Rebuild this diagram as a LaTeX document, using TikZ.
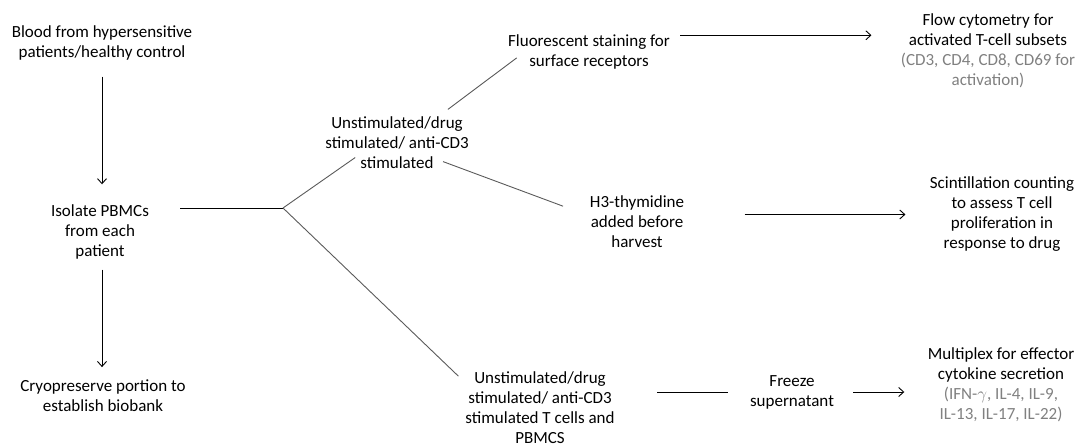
\documentclass[tikz,border=0pt]{standalone}
\usepackage{fontspec}
\setmainfont{Carlito}
\usepackage[dvipsnames]{xcolor}
\usetikzlibrary{arrows.meta,positioning,calc}
\definecolor{notegray}{RGB}{128,128,128}
\definecolor{spokegray}{RGB}{90,90,90}
\newcommand{\notetext}[1]{\textcolor{notegray}{#1}}

\begin{document}
\begin{tikzpicture}[x=1pt,y=-1pt,->,>={Straight Barb[length=5pt,width=9pt]},line width=0.9pt,
    step node/.style={align=center,inner sep=3pt,font=\fontsize{17}{20}\selectfont},
    spoke/.style={-,draw=spokegray},
    bar/.style={-}]
    \useasboundingbox (0,0) rectangle (1081,446);

    % left column
    \node[step node] (blood) at (102,43) {Blood from hypersensitive\\patients/healthy control};
    \node[step node] (isolate) at (100,232) {Isolate PBMCs\\from each\\patient};
    \node[step node] (cryo) at (103,395.5) {Cryopreserve portion to\\establish biobank};
    \coordinate (junction) at (283,208);

    % middle
    \node[step node] (stimA) at (397,143) {Unstimulated/drug\\stimulated/ anti-CD3\\stimulated};
    \node[step node] (fluor) at (589,52) {Fluorescent staining for\\surface receptors};
    \node[step node] (h3) at (637,222) {H3-thymidine\\added before\\harvest};
    \node[step node] (stimB) at (540,408) {Unstimulated/drug\\stimulated/ anti-CD3\\stimulated T cells and\\PBMCS};
    \node[step node] (freeze) at (792,392) {Freeze\\supernatant};

    % right column
    \node[step node] (flow) at (988,50.5) {Flow cytometry for\\activated T-cell subsets\\\notetext{(CD3, CD4, CD8, CD69 for}\\\notetext{activation)}};
    \node[step node] (scint) at (1002,214.5) {Scintillation counting\\to assess T cell\\proliferation in\\response to drug};
    \node[step node] (multi) at (1001,385) {Multiplex for effector\\cytokine secretion\\\notetext{(IFN-$\gamma$, IL-4, IL-9,}\\\notetext{IL-13, IL-17, IL-22)}};

    \path
        (blood.south) edge[shorten <=13pt, shorten >=17pt] (blood.south |- isolate.north)
        (blood.south |- isolate.south) edge[shorten <=7pt, shorten >=9pt] (blood.south |- cryo.north)
        (isolate.east |- junction) edge[bar, shorten <=28pt] (junction)
        (junction) edge[spoke, shorten >=-26pt] (stimA.205)
        (junction) edge[spoke, shorten >=5pt] (stimB.160)
        (stimA.33) edge[spoke, shorten <=7pt, shorten >=-15pt] (fluor.190)
        (stimA.south east) edge[spoke, shorten <=-31pt, shorten >=25pt] (h3.172)
        ($(fluor.north east)+(0,4)$) edge[shorten <=7pt, shorten >=26pt] ($(flow.west |- fluor.north east)+(0,4)$)
        (h3.east |- scint.west) edge[shorten <=57pt, shorten >=21pt] (scint.west)
        (freeze.west -| stimB.east) edge[bar, shorten <=39pt, shorten >=19pt] (freeze.west)
        (freeze.east) edge[shorten <=16pt, shorten >=20pt] (freeze.east -| multi.west);
\end{tikzpicture}
\end{document}
